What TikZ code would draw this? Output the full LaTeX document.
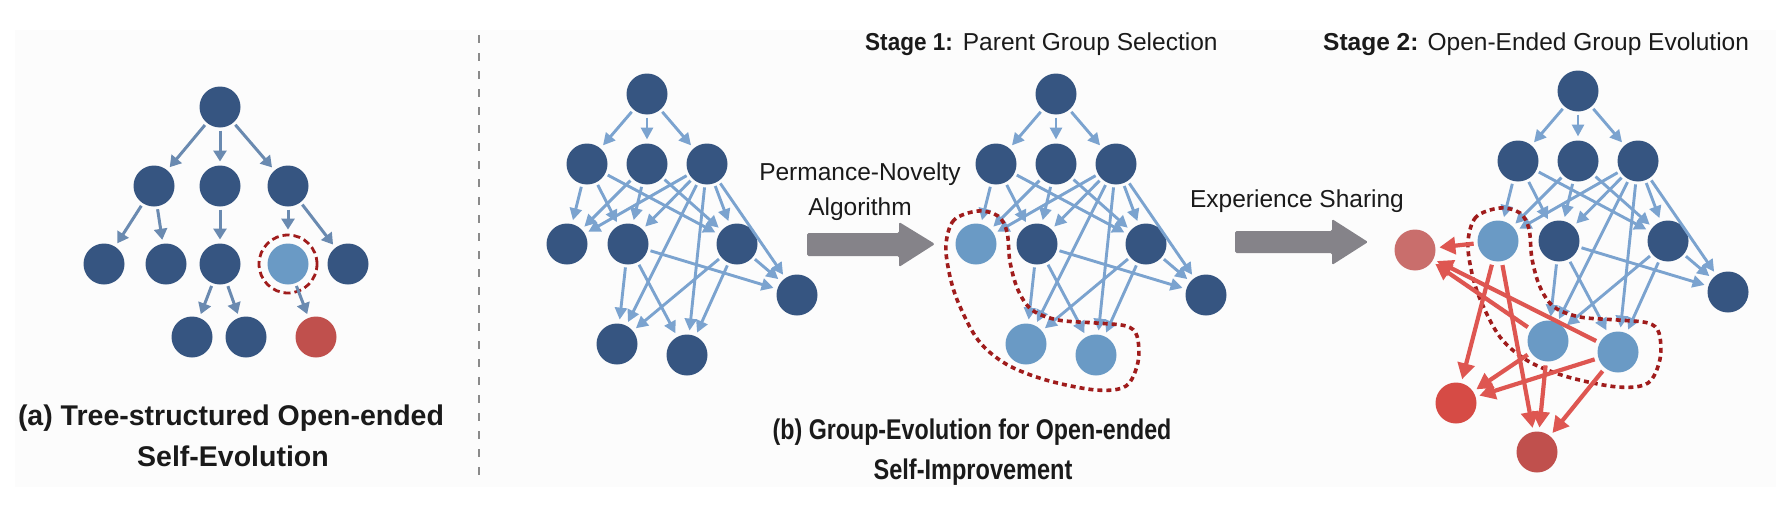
\documentclass[tikz,border=0pt]{standalone}
\usepackage{fontspec}
\setmainfont{Liberation Sans}
\usetikzlibrary{arrows.meta}
\definecolor{ndark}{HTML}{365581}
\definecolor{nlight}{HTML}{6A9AC5}
\definecolor{eblue}{HTML}{7BA3CF}
\definecolor{etree}{HTML}{6A8AB0}
\definecolor{rdash}{HTML}{A01C1C}
\definecolor{garrow}{HTML}{858389}
\definecolor{nred}{HTML}{C0504D}
\definecolor{npink}{HTML}{C96E6C}
\definecolor{nbright}{HTML}{D64B45}
\definecolor{ered}{HTML}{DE5651}
\definecolor{txt}{HTML}{1A1A1A}
\definecolor{bgc}{HTML}{FCFCFC}
\definecolor{sepc}{HTML}{8A8A8A}
\tikzset{
  nd/.style={circle, fill=ndark, minimum size=41pt, inner sep=0pt, outer sep=0pt},
  barr/.style={draw=eblue, line width=2.9pt, shorten <=3pt, shorten >=4pt,
    -{Triangle[length=12pt,width=12pt]}},
  tarr/.style={draw=etree, line width=3pt, shorten <=3pt, shorten >=4pt,
    -{Triangle[length=11pt,width=13pt]}},
  rarr/.style={draw=ered, line width=4.2pt, shorten <=4pt, shorten >=4pt,
    -{Triangle[length=16pt,width=17pt]}},
  blob/.style={draw=rdash, line width=3.6pt, dash pattern=on 5pt off 4pt},
  reg/.style={font=\fontsize{24.5}{29}\selectfont, text=txt, inner sep=0pt, anchor=base},
  ttl/.style={font=\fontsize{28.5}{34}\selectfont\bfseries, text=txt, inner sep=0pt, anchor=base},
}
\newcommand{\evograph}[5]{%
  \begin{scope}[shift={(#2,#3)}]
    \node[nd] (#1r) at (647,94) {};
    \node[nd] (#1a) at (587,164) {};
    \node[nd] (#1b) at (647,164) {};
    \node[nd] (#1c) at (707,164) {};
    \node[nd,fill=#4] (#1d) at (567,244) {};
    \node[nd] (#1e) at (628,244) {};
    \node[nd] (#1f) at (737,244) {};
    \node[nd] (#1g) at (797,295) {};
    \node[nd,fill=#5] (#1h) at (617,344) {};
    \node[nd,fill=#5] (#1i) at (687,355) {};
  \end{scope}
  \foreach \s/\t in {r/a,r/b,r/c,a/d,a/e,a/f,b/d,b/e,b/f,c/d,c/e,c/f,c/g,c/h,c/i,e/g,e/h,e/i,f/g,f/h,f/i}
    \draw[barr] (#1\s) -- (#1\t);
}
\newcommand{\blobaround}[1]{%
  \begin{scope}[shift={(#1)}]
    \draw[blob] plot[smooth cycle, tension=0.55] coordinates {(2,-33) (-22,-24) (-30,0) (-27,28) (-18,58) (2,96) (30,120) (70,136) (120,146) (150,142) (162,118) (161,92) (150,82) (120,79) (82,76) (56,66) (42,46) (34,18) (31,-12) (22,-28)};
  \end{scope}
}
\begin{document}
\begin{tikzpicture}[x=1pt,y=-1pt]
\useasboundingbox (0,0) rectangle (1776,506);
\fill[bgc] (15,30) rectangle (1776,487);

% ---------- (a) tree ----------
\node[nd] (t0) at (220,107) {};
\node[nd] (t1) at (154,186) {};
\node[nd] (t2) at (220,186) {};
\node[nd] (t3) at (288,186) {};
\node[nd] (t4) at (104,264) {};
\node[nd] (t5) at (166,264) {};
\node[nd] (t6) at (220,264) {};
\node[nd,fill=nlight] (t7) at (288,264) {};
\node[nd] (t8) at (348,264) {};
\node[nd] (t9) at (192,337) {};
\node[nd] (t10) at (246,337) {};
\node[nd,fill=nred] (t11) at (316,337) {};
\node[circle, draw=rdash, line width=2.8pt, dash pattern=on 7pt off 4pt, minimum size=58pt, inner sep=0pt] (t7c) at (t7) {};
\foreach \s/\t in {t0/t1,t0/t2,t0/t3,t1/t4,t1/t5,t2/t6,t3/t7c,t3/t8,t6/t9,t6/t10,t7/t11}
  \draw[tarr] (\s) -- (\t);

\node[ttl] (ta1) at (231,425) {(a) Tree-structured Open-ended};
\node[ttl] (ta2) at (233,466) {Self-Evolution};

% separator
\coordinate (s1) at (479,35);
\coordinate (s2) at (479,482);
\draw[sepc, line width=2.4pt, dash pattern=on 8pt off 10pt] (s1) -- (s2);

% ---------- (b) graphs ----------
\evograph{ga}{0}{0}{ndark}{ndark}
\evograph{gb}{409}{0}{nlight}{nlight}
\blobaround{gbd}
\evograph{gc}{931}{-3}{nlight}{nlight}
\blobaround{gcd}

\node[nd,fill=npink] (P) at (1415,250) {};
\node[nd,fill=nbright] (R) at (1456,403) {};
\node[nd,fill=nred] (D) at (1537,452) {};
\foreach \s/\t in {gcd/P,gch/P,gci/P,gcd/R,gch/R,gci/R,gcd/D,gch/D,gci/D}
  \draw[rarr] (\s) -- (\t);

% big grey arrows
\fill[garrow, rounded corners=1.5pt] (807,233) -- (899,233) -- (899,222) -- (935,244) -- (899,267) -- (899,256) -- (807,256) -- cycle;
\fill[garrow, rounded corners=1.5pt] (1235,231) -- (1332,231) -- (1332,219) -- (1368,242) -- (1332,265) -- (1332,253) -- (1235,253) -- cycle;

% texts
\node[reg] (pn1) at (860,180) {Permance-Novelty};
\node[reg] (pn2) at (860,215) {Algorithm};
\node[reg] (es) at (1297,207) {Experience Sharing};
\node[reg, anchor=base west] (st1) at (865,50) {\scalebox{0.92}[1]{\bfseries Stage 1:}\hspace{10pt}Parent Group Selection};
\node[reg, anchor=base west] (st2) at (1323,50) {{\bfseries Stage 2:} Open-Ended Group Evolution};
\node[ttl] (tb1) at (972,439) {\scalebox{0.815}[1]{(b) Group-Evolution for Open-ended}};
\node[ttl] (tb2) at (973,479) {\scalebox{0.826}[1]{Self-Improvement}};
\end{tikzpicture}
\end{document}
